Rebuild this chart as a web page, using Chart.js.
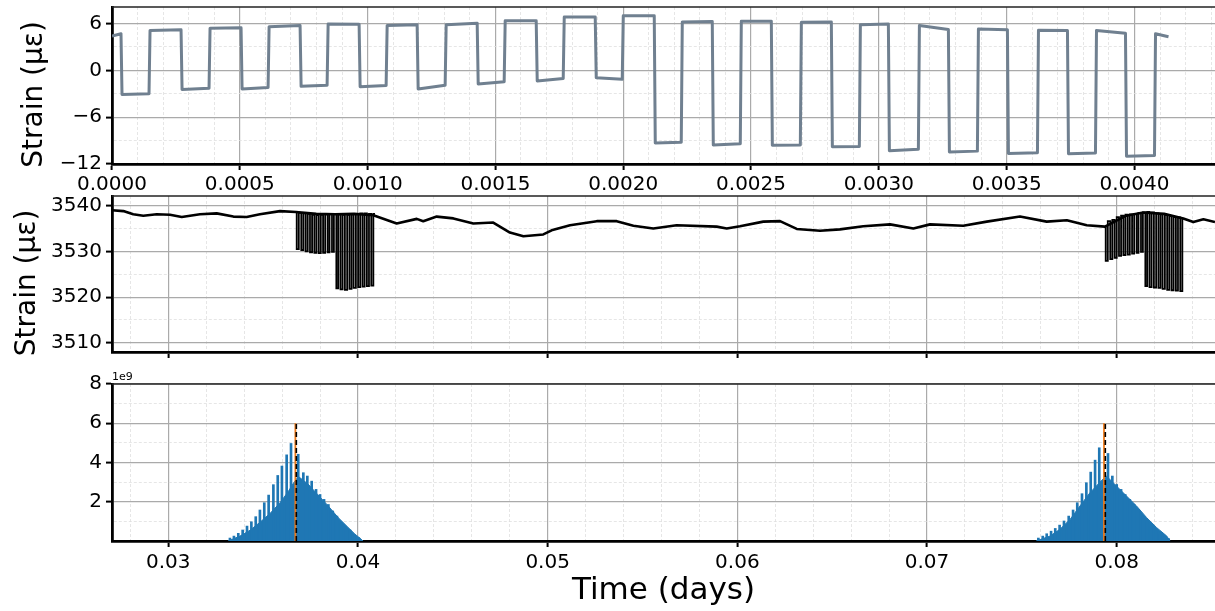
<!DOCTYPE html>
<html><head><meta charset="utf-8">
<script src="https://cdn.jsdelivr.net/npm/chart.js@4/dist/chart.umd.min.js"></script>
<style>
html,body{margin:0;padding:0;background:#fff;width:1215px;height:611px;overflow:hidden;}
canvas{position:absolute;left:0;}
</style></head><body>
<canvas id="c1" width="1215" height="200" style="top:0px"></canvas>
<canvas id="c2" width="1215" height="172" style="top:190px"></canvas>
<canvas id="c3" width="1215" height="246" style="top:365px"></canvas>
<script>
// ---------- Panel 1: zoom on first burst (relative time, days) ----------
const p1Time = [0,0.0000352,0.0000392,0.0001448,0.0001488,0.0002701,0.0002741,0.0003796,0.0003836,0.0005049,
0.0005089,0.0006106,0.0006146,0.0007358,0.0007398,0.0008415,0.0008455,0.0009667,0.0009707,0.0010724,
0.0010764,0.0011937,0.0011977,0.0013033,0.0013073,0.0014286,0.0014326,0.0015342,0.0015382,0.0016595,
0.0016635,0.0017652,0.0017692,0.0018904,0.0018944,0.0019961,0.0020001,0.0021213,0.0021253,0.0022270,
0.0022310,0.0023483,0.0023523,0.0024579,0.0024619,0.0025793,0.0025833,0.0026928,0.0026968,0.0028141,
0.0028181,0.0029237,0.0029277,0.0030372,0.0030412,0.0031546,0.0031586,0.0032720,0.0032760,0.0033855,
0.0033895,0.0035029,0.0035069,0.0036204,0.0036244,0.0037378,0.0037418,0.0038474,0.0038514,0.0039648,
0.0039688,0.0040783,0.0040823,0.0041331];
const p1Strain = [4.4,4.7,-3.1,-3.0,5.1,5.2,-2.45,-2.3,5.4,5.45,
-2.4,-2.2,5.6,5.75,-2.05,-1.9,5.95,5.9,-2.1,-1.95,
5.75,5.85,-2.4,-1.9,5.85,6.05,-1.75,-1.45,6.35,6.35,
-1.35,-1.05,6.85,6.85,-0.95,-1.15,7.0,7.0,-9.3,-9.2,
6.2,6.25,-9.55,-9.4,6.3,6.3,-9.6,-9.55,6.15,6.2,
-9.8,-9.75,5.85,5.95,-10.3,-10.1,5.75,5.25,-10.45,-10.35,
5.3,5.2,-10.65,-10.55,5.15,5.1,-10.7,-10.6,5.1,4.75,
-11.0,-10.9,4.7,4.3];
const p1XMajor = [0,0.0005,0.0010,0.0015,0.0020,0.0025,0.0030,0.0035,0.0040];
const p1YMajor = [-12,-6,0,6];

// ---------- Panel 2: full strain record ----------
const p2Time = [0.02702,0.02763,0.02815,0.02868,0.02939,0.03009,0.03071,0.03167,0.03255,0.03343,
0.03413,0.03483,0.03589,0.03673,0.03780,0.03880,0.03980,0.04081,0.04204,0.04310,
0.04344,0.04415,0.04503,0.04608,0.04713,0.04801,0.04872,0.04977,0.05021,0.05118,
0.05259,0.05364,0.05452,0.05557,0.05680,0.05891,0.05944,0.06014,0.06137,0.06225,
0.06313,0.06436,0.06541,0.06664,0.06805,0.06928,0.07016,0.07191,0.07315,0.07490,
0.07631,0.07737,0.07842,0.07938,0.08050,0.08140,0.08250,0.08351,0.08404,0.08457,0.08518];
const p2Strain = [3539.0,3538.8,3538.1,3537.8,3538.1,3538.0,3537.5,3538.1,3538.3,3537.6,
3537.5,3538.1,3538.8,3538.6,3538.2,3538.1,3538.2,3537.9,3536.1,3537.1,
3536.6,3537.6,3537.2,3536.1,3536.3,3534.1,3533.3,3533.7,3534.6,3535.7,
3536.6,3536.6,3535.6,3535.0,3535.7,3535.4,3535.0,3535.5,3536.5,3536.6,
3534.9,3534.5,3534.8,3535.5,3535.9,3535.0,3535.9,3535.6,3536.5,3537.6,
3536.5,3536.8,3535.7,3535.4,3537.8,3538.5,3538.2,3537.2,3536.4,3537.0,3536.4];
// bursts: time of each transition and level after it
const burst1Time = [0.03673,0.03677,0.03688,0.03701,0.03712,0.03724,0.03735,0.03747,0.03758,0.03770,
0.03781,0.03793,0.03804,0.03816,0.03827,0.03840,0.03850,0.03863,0.03873,0.03886,
0.03896,0.03908,0.03919,0.03931,0.03943,0.03955,0.03966,0.03977,0.03989,0.04001,
0.04012,0.04024,0.04035,0.04047,0.04058,0.04070,0.04081,0.04085];
const burst1Strain = [3538.6,3530.5,3538.4,3530.3,3538.3,3530.0,3538.2,3529.8,3538.0,3529.7,
3537.9,3529.6,3538.0,3529.7,3538.1,3529.8,3538.2,3529.9,3538.2,3521.9,
3538.1,3521.7,3538.0,3521.6,3538.0,3521.8,3538.1,3522.0,3538.2,3522.2,
3538.3,3522.3,3538.3,3522.4,3538.2,3522.5,3538.2,3538.0];
const burst2Time = [0.07938,0.07942,0.07953,0.07966,0.07977,0.07989,0.08000,0.08012,0.08023,0.08035,
0.08046,0.08058,0.08069,0.08081,0.08092,0.08105,0.08115,0.08128,0.08138,0.08151,
0.08161,0.08173,0.08184,0.08196,0.08208,0.08220,0.08231,0.08242,0.08254,0.08266,
0.08277,0.08289,0.08300,0.08312,0.08323,0.08335,0.08346,0.08351];
const burst2Strain = [3535.4,3527.9,3536.6,3528.3,3536.9,3528.6,3537.5,3529.0,3537.8,3529.2,
3538.0,3529.3,3538.1,3529.5,3538.2,3529.7,3538.4,3529.9,3538.5,3522.4,
3538.6,3522.2,3538.5,3522.1,3538.3,3522.0,3538.1,3521.8,3537.9,3521.6,
3537.7,3521.5,3537.5,3521.4,3537.4,3521.3,3537.2,3537.2];
const p2YMajor = [3510,3520,3530,3540];

// ---------- Panel 3: distribution around each burst ----------
const peak1Time = [0.03325,0.03346,0.03369,0.03392,0.03415,0.03438,0.03461,0.03483,0.03506,0.03529,
0.03554,0.03577,0.03599,0.03624,0.03647,0.03685,0.03712,0.03733,0.03756,0.03779,
0.03800,0.03821,0.03844,0.03867,0.03889,0.03912,0.03935,0.03958,0.03981,0.04004];
const peak1Value = [0.15e9,0.25e9,0.39e9,0.56e9,0.76e9,0.98e9,1.24e9,1.58e9,1.95e9,2.34e9,
2.87e9,3.34e9,3.82e9,4.39e9,4.97e9,4.42e9,3.48e9,3.31e9,3.05e9,2.63e9,
2.37e9,2.12e9,1.86e9,1.53e9,1.27e9,0.93e9,0.71e9,0.56e9,0.30e9,0.17e9];
const peak2Time = [0.07587,0.07610,0.07631,0.07654,0.07676,0.07699,0.07722,0.07747,0.07770,0.07792,
0.07817,0.07840,0.07863,0.07886,0.07908,0.07954,0.07977,0.08000,0.08023,0.08045,
0.08069,0.08091,0.08114,0.08137,0.08160,0.08182,0.08206,0.08228,0.08251,0.08274];
const peak2Value = [0.15e9,0.25e9,0.37e9,0.50e9,0.64e9,0.81e9,1.02e9,1.27e9,1.58e9,1.95e9,
2.41e9,2.97e9,3.51e9,4.12e9,4.75e9,4.46e9,3.31e9,2.88e9,2.63e9,2.37e9,
2.12e9,1.86e9,1.61e9,1.27e9,1.02e9,0.76e9,0.50e9,0.34e9,0.20e9,0.12e9];
const body1Time = [0.03315,0.03378,0.03431,0.03483,0.03536,0.03589,0.03631,0.03663,0.03673,0.03684,
0.03737,0.03789,0.03842,0.03895,0.03947,0.03984,0.04016,0.04026];
const body1Value = [0,0.25e9,0.55e9,0.95e9,1.4e9,1.95e9,2.5e9,3.0e9,3.1e9,3.3e9,
2.9e9,2.35e9,1.8e9,1.2e9,0.7e9,0.35e9,0.1e9,0];
const body2Time = [0.07575,0.07648,0.07701,0.07754,0.07806,0.07859,0.07912,0.07933,0.07947,0.08000,
0.08053,0.08105,0.08158,0.08211,0.08264,0.08281];
const body2Value = [0,0.25e9,0.6e9,1.1e9,1.78e9,2.46e9,3.0e9,3.2e9,3.3e9,2.79e9,
2.28e9,1.78e9,1.19e9,0.68e9,0.25e9,0];
const peakSolidTime = [0.03670,0.07933];
const peakDashTime = [0.03675,0.07940];
const peakMarkerTop = 6e9;
const p23XMajor = [0.03,0.04,0.05,0.06,0.07,0.08];
const p3YMajor = [2e9,4e9,6e9,8e9];

// ---------- helpers ----------
const FONT = 'DejaVu Sans';
const MAJOR_GRID = '#aaaaaa';
const MINOR_GRID = '#e0e0e0';
const xy = (ts, vs) => ts.map((t, i) => ({x: t, y: vs[i]}));
function tickRange(min, max, step) {
  const out = [];
  for (let k = Math.ceil(min / step - 1e-9); k * step <= max + 1e-12; k++) out.push(+(k * step).toFixed(12));
  return out;
}
function axis(o) {
  const tol = o.step * 1e-4;
  const isMaj = v => o.major.some(m => Math.abs(m - v) < tol);
  const vals = tickRange(o.min, o.max, o.step);
  const maj = c => c.tick && isMaj(c.tick.value);
  return {
    type: 'linear', min: o.min, max: o.max, offset: false, position: o.position,
    afterBuildTicks: s => { s.ticks = vals.map(v => ({value: v})); },
    afterFit: s => {
      if (o.horizontal) s.height = o.size; else s.width = o.size;
      s.paddingTop = 0; s.paddingBottom = 0; s.paddingLeft = 0; s.paddingRight = 0;
    },
    ticks: {
      autoSkip: false, maxRotation: 0, minRotation: 0, padding: o.pad ?? 4, color: '#000',
      display: o.labels !== false,
      font: {family: FONT, size: 20},
      callback: v => (isMaj(v) && o.labels !== false) ? o.fmt(v) : ''
    },
    grid: {
      offset: false,
      color: c => maj(c) ? MAJOR_GRID : MINOR_GRID,
      lineWidth: c => maj(c) ? 1.2 : 0.8,
      drawTicks: true, tickLength: 6,
      tickColor: c => maj(c) ? '#000' : 'rgba(0,0,0,0)',
      tickWidth: 2
    },
    border: {display: true, color: '#000', width: 2.8, dash: c => (c.tick && !isMaj(c.tick.value)) ? [3, 2] : []},
    title: o.title || {display: false}
  };
}
const topSpine = {
  id: 'topSpine',
  afterDraw(chart) {
    const {ctx, chartArea: a} = chart;
    ctx.save(); ctx.strokeStyle = '#222'; ctx.lineWidth = 1.5;
    ctx.beginPath(); ctx.moveTo(a.left, a.top); ctx.lineTo(a.right, a.top); ctx.stroke(); ctx.restore();
  }
};
const minusFmt = v => v < 0 ? '\u2212' + Math.abs(v) : String(v);
const baseOpts = (padTop, scales, extraPlugins) => ({
  responsive: false, animation: false, events: [],
  layout: {padding: {top: padTop, left: 0, right: 0, bottom: 0}},
  plugins: Object.assign({legend: {display: false}, tooltip: {enabled: false}}, extraPlugins || {}),
  scales
});
// two trailing spaces keep the centred label where the reference has it
const yTitleText = 'Strain (με)  ';

// ---------- chart 1 ----------
new Chart(document.getElementById('c1'), {
  type: 'line',
  data: {datasets: [{
    data: xy(p1Time, p1Strain), borderColor: '#708090', borderWidth: 3,
    pointRadius: 0, tension: 0, borderJoinStyle: 'round'
  }]},
  options: baseOpts(7, {
    x: axis({min: 0, max: 0.004315, step: 0.0001, major: p1XMajor, horizontal: true, size: 36,
      position: 'bottom', fmt: v => v.toFixed(4), pad: 3}),
    y: axis({min: -12, max: 8.12, step: 3, major: p1YMajor, horizontal: false, size: 112,
      position: 'left', fmt: minusFmt,
      title: {display: true, text: yTitleText, color: '#000', font: {family: FONT, size: 28}, padding: {top: 18, bottom: 0}}})
  }),
  plugins: [topSpine]
});

// ---------- chart 2 ----------
new Chart(document.getElementById('c2'), {
  type: 'line',
  data: {datasets: [
    {data: xy(burst1Time, burst1Strain), borderColor: '#000', borderWidth: 1.8, pointRadius: 0, stepped: true, order: 0},
    {data: xy(burst2Time, burst2Strain), borderColor: '#000', borderWidth: 1.8, pointRadius: 0, stepped: true, order: 0},
    {data: xy(p2Time, p2Strain), borderColor: '#000', borderWidth: 2.6, pointRadius: 0, tension: 0, borderJoinStyle: 'round', order: 1}
  ]},
  options: baseOpts(6, {
    x: axis({min: 0.027032, max: 0.085182, step: 0.002, major: p23XMajor, horizontal: true, size: 10,
      position: 'bottom', fmt: v => v.toFixed(2), labels: false}),
    y: axis({min: 3508, max: 3542.1, step: 5, major: p2YMajor, horizontal: false, size: 112,
      position: 'left', fmt: v => String(v),
      title: {display: true, text: yTitleText, color: '#000', font: {family: FONT, size: 28}, padding: {top: 11, bottom: 0}}})
  }),
  plugins: [topSpine]
});

// ---------- chart 3 ----------
new Chart(document.getElementById('c3'), {
  type: 'line',
  data: {datasets: [
    {data: xy(peakDashTime.flatMap(t => [t, t, NaN]), peakDashTime.flatMap(() => [0, peakMarkerTop, NaN])),
      borderColor: '#000', borderWidth: 1.6, borderDash: [5, 3], pointRadius: 0, spanGaps: false, order: 0},
    {data: xy(peakSolidTime.flatMap(t => [t, t, NaN]), peakSolidTime.flatMap(() => [0, peakMarkerTop, NaN])),
      borderColor: '#f07a18', borderWidth: 1.8, pointRadius: 0, spanGaps: false, order: 1},
    {type: 'bar', data: xy(peak1Time.concat(peak2Time), peak1Value.concat(peak2Value)),
      backgroundColor: '#1f77b4', borderWidth: 0, barThickness: 2, grouped: false, order: 2},
    {data: xy(body1Time, body1Value), fill: 'origin', backgroundColor: '#1f77b4', borderColor: '#1f77b4', borderWidth: 1, pointRadius: 0, order: 3},
    {data: xy(body2Time, body2Value), fill: 'origin', backgroundColor: '#1f77b4', borderColor: '#1f77b4', borderWidth: 1, pointRadius: 0, order: 3}
  ]},
  options: baseOpts(2.8, {
    x: axis({min: 0.027032, max: 0.085182, step: 0.002, major: p23XMajor, horizontal: true, size: 70,
      position: 'bottom', fmt: v => v.toFixed(2), pad: 4,
      title: {display: true, text: 'Time (days)', color: '#000', font: {family: FONT, size: 31}, padding: {top: 0, bottom: 1}}}),
    y: axis({min: 0, max: 8e9, step: 1e9, major: p3YMajor, horizontal: false, size: 112,
      position: 'left', fmt: v => String(Math.round(v / 1e9))})
  }, {title: {display: true, text: '1e9', align: 'start', fullSize: false, color: '#000',
      font: {family: FONT, size: 11, weight: 'normal'}, padding: {top: 3, bottom: 0}}}),
  plugins: [topSpine]
});
</script>
</body></html>
